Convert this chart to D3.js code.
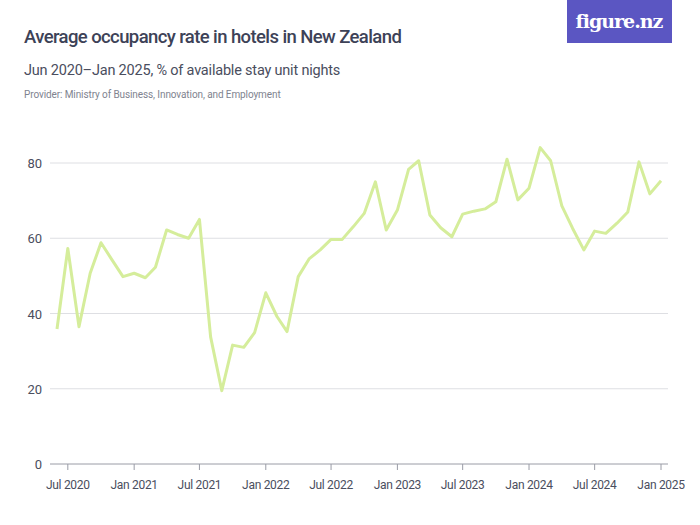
<!DOCTYPE html>
<html><head><meta charset="utf-8">
<script src="https://cdn.jsdelivr.net/npm/d3@7"></script>
<style>
body{margin:0;background:#fff;font-family:Roboto,"Liberation Sans",sans-serif;}
</style></head><body>
<svg id="chart" width="700" height="525"></svg>
<script>
// Monthly values, Jun 2020 – Jan 2025
var startMonth = new Date(2020, 5, 1);
var occupancy = [35.9, 57.3, 36.5, 50.7, 58.8, 54.2, 49.8, 50.7, 49.5, 52.3, 62.2, 61, 60, 65,
  33.8, 19.5, 31.6, 31, 34.9, 45.5, 39.2, 35.2, 49.8, 54.5, 56.9, 59.7, 59.7, 63.1, 66.6,
  75, 62.2, 67.5, 78.3, 80.6, 66.2, 62.8, 60.4, 66.4, 67.2, 67.8, 69.7, 81, 70.2, 73.3,
  84.1, 80.6, 68.6, 62.6, 56.9, 61.9, 61.3, 64, 67, 80.3, 71.8, 75.3];
var yTicks = [0, 20, 40, 60, 80];
var xTickLabels = ["Jul 2020", "Jan 2021", "Jul 2021", "Jan 2022", "Jul 2022", "Jan 2023", "Jul 2023", "Jan 2024", "Jul 2024", "Jan 2025"];

var data = occupancy.map(function (v, i) {
  return { date: new Date(2020, 5 + i, 1), value: v };
});

var svg = d3.select('#chart');

// Header
svg.append('text').attr('x', 24).attr('y', 43)
  .attr('font-size', 18.5).attr('font-weight', 500).attr('fill', '#3d4257')
  .attr('letter-spacing', -0.6)
  .text('Average occupancy rate in hotels in New Zealand');
svg.append('text').attr('x', 24).attr('y', 75)
  .attr('font-size', 14.5).attr('fill', '#4a4e5e').attr('letter-spacing', -0.2)
  .text('Jun 2020–Jan 2025, % of available stay unit nights');
svg.append('text').attr('x', 24).attr('y', 98)
  .attr('font-size', 10).attr('fill', '#80838f').attr('letter-spacing', -0.1)
  .text('Provider: Ministry of Business, Innovation, and Employment');

// Logo
svg.append('rect').attr('x', 567).attr('y', 0).attr('width', 105).attr('height', 43).attr('fill', '#5b56c2');
svg.append('text').attr('x', 619).attr('y', 28).attr('text-anchor', 'middle')
  .attr('font-size', 19).attr('font-weight', 700).attr('fill', '#fff')
  .attr('font-family', '"DejaVu Serif", serif').attr('letter-spacing', -1)
  .text('figure.nz');

// Scales
var x = d3.scaleTime()
  .domain([startMonth, new Date(2025, 0, 1)])
  .range([57, 661]);
var y = d3.scaleLinear().domain([0, 80]).range([464, 163]);

// Grid
svg.append('g').selectAll('line').data(yTicks).enter().append('line')
  .attr('x1', 50).attr('x2', 668)
  .attr('y1', function (d) { return y(d); }).attr('y2', function (d) { return y(d); })
  .attr('stroke', function (d) { return d === 0 ? '#9a9ca6' : '#dedfe3'; })
  .attr('stroke-width', 1);

svg.append('g').selectAll('text').data(yTicks).enter().append('text')
  .attr('x', 42).attr('y', function (d) { return y(d) + 5; })
  .attr('text-anchor', 'end').attr('font-size', 13).attr('fill', '#4a4e5e')
  .text(function (d) { return d; });

// X ticks
var xTickDates = xTickLabels.map(function (s, i) { return new Date(2020, 6 + i * 6, 1); });
svg.append('g').selectAll('line').data(xTickDates).enter().append('line')
  .attr('x1', function (d) { return x(d); }).attr('x2', function (d) { return x(d); })
  .attr('y1', 464).attr('y2', 470).attr('stroke', '#9a9ca6');
svg.append('g').selectAll('text').data(xTickDates).enter().append('text')
  .attr('x', function (d) { return x(d); }).attr('y', 489)
  .attr('text-anchor', 'middle').attr('font-size', 12).attr('fill', '#4a4e5e')
  .attr('letter-spacing', -0.3)
  .text(function (d, i) { return xTickLabels[i]; });

// Line
var line = d3.line()
  .x(function (d) { return x(d.date); })
  .y(function (d) { return y(d.value); });
svg.append('path').datum(data)
  .attr('d', line).attr('fill', 'none')
  .attr('stroke', '#d5ed9b').attr('stroke-width', 3)
  .attr('stroke-linejoin', 'round');
</script>
</body></html>
